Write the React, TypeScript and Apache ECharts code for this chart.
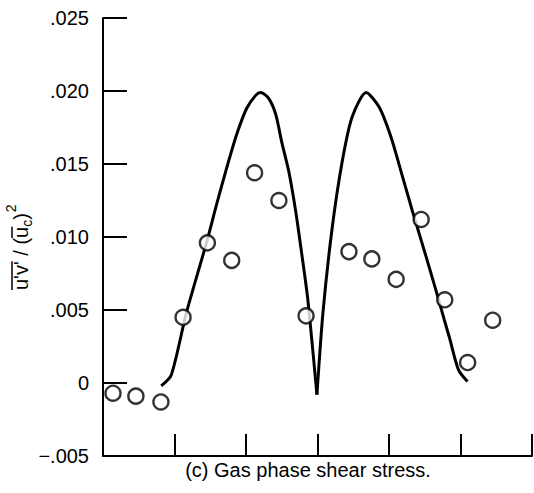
import React, { useEffect, useRef } from 'react';
import * as echarts from 'echarts';

const FONT = '"Liberation Sans", Arial, Helvetica, sans-serif';

// Measured data (circles)
const dataX = [0.14, 0.46, 0.81, 1.12, 1.46, 1.8, 2.12, 2.46, 2.84, 3.44, 3.76, 4.1, 4.45, 4.78, 5.1, 5.45];
const dataY = [-0.0007, -0.0009, -0.0013, 0.0045, 0.0096, 0.0084, 0.0144, 0.0125, 0.0046, 0.009, 0.0085, 0.0071, 0.0112, 0.0057, 0.0014, 0.0043];

// Computed curve (solid line), left hump up to the cusp
const leftHumpX = [0.815, 0.955, 1.166, 1.447, 1.587, 1.728, 1.868, 2.008, 2.135, 2.205, 2.317, 2.416, 2.5, 2.598, 2.697, 2.781, 2.865, 2.992];
const leftHumpY = [-0.0002, 0.00055, 0.0048, 0.0096, 0.0122, 0.0147, 0.017, 0.0188, 0.0197, 0.0199, 0.0195, 0.0184, 0.0165, 0.0145, 0.0117, 0.0088, 0.0057, -0.0008];
// right hump from the cusp
const rightHumpX = [2.992, 3.076, 3.202, 3.343, 3.483, 3.68, 3.862, 4.031, 4.185, 4.326, 4.522, 4.677, 4.775, 4.846, 4.972, 5.098];
const rightHumpY = [-0.0008, 0.0048, 0.0105, 0.0151, 0.0182, 0.0199, 0.0189, 0.0168, 0.0142, 0.0118, 0.0086, 0.006, 0.0043, 0.0031, 0.0009, 0.0001];

const yTickLabels: Record<string, string> = {
  '-0.005': '\u2212.005',
  '0': '0',
  '0.005': '.005',
  '0.01': '.010',
  '0.015': '.015',
  '0.02': '.020',
  '0.025': '.025',
};

const caption = '(c) Gas phase shear stress.';

function measure(text: string, size: number): number {
  const ctx = document.createElement('canvas').getContext('2d');
  if (!ctx) return text.length * size * 0.5;
  ctx.font = `${size}px "Liberation Sans"`;
  return ctx.measureText(text).width;
}

function buildYLabel() {
  const big = 20;
  const small = 14;
  const parts = [
    { t: "u'v'", s: big, dy: 0 },
    { t: ' / (', s: big, dy: 0 },
    { t: 'u', s: big, dy: 0 },
    { t: 'c', s: small, dy: 6 },
    { t: ')', s: big, dy: 0 },
    { t: '2', s: small, dy: -10 },
  ];
  let x = 0;
  const children: any[] = [];
  const xs: number[] = [];
  parts.forEach((p) => {
    xs.push(x);
    children.push({
      type: 'text',
      style: {
        text: p.t,
        x,
        y: p.dy,
        fontSize: p.s,
        fontFamily: FONT,
        fill: '#000',
        align: 'left',
        verticalAlign: 'middle',
      },
    });
    x += measure(p.t, p.s) + (p.t === ')' ? 1 : 0);
  });
  const w0 = measure(parts[0].t, big);
  const w2 = measure(parts[2].t, big);
  children.push({
    type: 'line',
    shape: { x1: 0, y1: -9, x2: w0, y2: -9 },
    style: { stroke: '#000', lineWidth: 1.5 },
  });
  children.push({
    type: 'line',
    shape: { x1: xs[2], y1: -9, x2: xs[2] + w2, y2: -9 },
    style: { stroke: '#000', lineWidth: 1.5 },
  });
  return {
    type: 'group',
    x: 21,
    y: 290,
    rotation: Math.PI / 2,
    children,
  };
}

export default function App() {
  const ref = useRef<HTMLDivElement>(null);
  useEffect(() => {
    if (!ref.current) return;
    const chart = echarts.init(ref.current, null, { renderer: 'svg' });
    const lineSeries = (xs: number[], ys: number[]) => ({
      type: 'line',
      data: xs.map((x, i) => [x, ys[i]]),
      showSymbol: false,
      symbol: 'none',
      smooth: 0.25,
      lineStyle: { color: '#000', width: 3 },
      z: 2,
    });
    const option: any = {
      animation: false,
      backgroundColor: '#fff',
      grid: { left: 103, right: 2, top: 18, bottom: 37 },
      xAxis: {
        type: 'value',
        min: 0,
        max: 6,
        interval: 1,
        axisLine: { show: true, onZero: false, lineStyle: { color: '#000', width: 2 } },
        axisTick: { show: true, inside: true, length: 22, lineStyle: { color: '#000', width: 2 } },
        axisLabel: { show: false },
        splitLine: { show: false },
      },
      yAxis: {
        type: 'value',
        min: -0.005,
        max: 0.025,
        interval: 0.005,
        axisLine: { show: true, onZero: false, lineStyle: { color: '#000', width: 2 } },
        axisTick: { show: true, inside: true, length: 24, lineStyle: { color: '#000', width: 2 } },
        axisLabel: {
          color: '#000',
          fontSize: 20,
          fontFamily: FONT,
          margin: 14,
          formatter: (v: number) => {
            const key = String(Math.round(v * 1000) / 1000);
            return yTickLabels[key] ?? String(v);
          },
        },
        splitLine: { show: false },
      },
      series: [
        lineSeries(leftHumpX, leftHumpY),
        lineSeries(rightHumpX, rightHumpY),
        {
          type: 'scatter',
          data: dataX.map((x, i) => [x, dataY[i]]),
          symbol: 'circle',
          symbolSize: 15,
          itemStyle: { color: '#fff', borderColor: '#000', borderWidth: 2.4 },
          z: 3,
        },
      ],
      graphic: [
        buildYLabel(),
        {
          type: 'text',
          style: {
            text: caption,
            x: 308,
            y: 470,
            fontSize: 20,
            fontFamily: FONT,
            fill: '#000',
            align: 'center',
            verticalAlign: 'middle',
          },
        },
      ],
    };
    chart.setOption(option);
    return () => chart.dispose();
  }, []);
  return (
    <div
      ref={ref}
      style={{ position: 'fixed', left: 0, top: 0, width: 534, height: 493, background: '#fff' }}
    />
  );
}
